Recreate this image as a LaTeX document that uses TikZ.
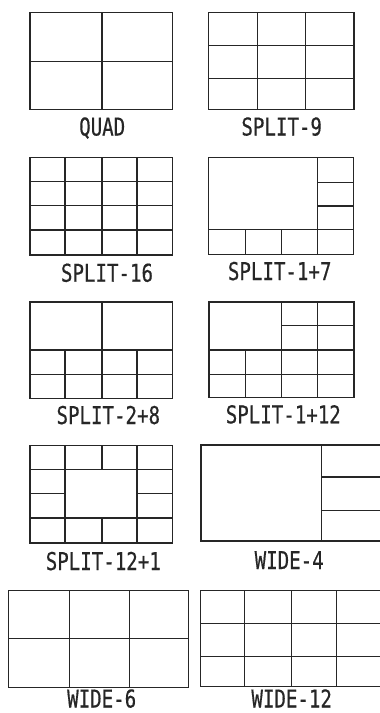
\documentclass[tikz,border=0pt]{standalone}
\usepackage{fontspec}
\newfontfamily\lblfont[FakeBold=0.6]{DejaVu Sans Mono}
\begin{document}
\begin{tikzpicture}[x=1pt,y=-1pt,
  pane/.style={draw=black!85,line width=1.2pt},
  lbl/.style={anchor=base,inner sep=0pt,text depth=0pt,font=\lblfont\fontsize{24.5}{25}\selectfont,text=black!85}]
\useasboundingbox (0,0) rectangle (380,713);
% QUAD
\draw[pane] (30,12.3) rectangle (172.7,109.3);
\draw[pane] (102,12.3) -- (102,109.3) (30,61.7) -- (172.7,61.7);
\node[lbl] (quad) at (102.2,135.5) {\scalebox{0.78}[1]{QUAD}};
% SPLIT-9
\draw[pane] (208.7,12.3) rectangle (354,109.3);
\draw[pane] (257.7,12.3) -- (257.7,109.3) (305.7,12.3) -- (305.7,109.3)
  (208.7,45.7) -- (354,45.7) (208.7,78.7) -- (354,78.7);
\node[lbl] (s9) at (281.7,135.5) {\scalebox{0.78}[1]{SPLIT-9}};
% SPLIT-16
\draw[pane] (30,157.7) rectangle (172.7,255);
\draw[pane] (65,157.7) -- (65,255) (102,157.7) -- (102,255) (137,157.7) -- (137,255)
  (30,181.7) -- (172.7,181.7) (30,205.7) -- (172.7,205.7) (30,230) -- (172.7,230);
\node[lbl] (s16) at (107,281.7) {\scalebox{0.78}[1]{SPLIT-16}};
% SPLIT-1+7
\draw[pane] (208.7,157.7) rectangle (353.7,254.3);
\draw[pane] (317.7,157.7) -- (317.7,254.3) (208.7,229.7) -- (353.7,229.7)
  (245.3,229.7) -- (245.3,254.3) (281.7,229.7) -- (281.7,254.3)
  (317.7,182.3) -- (353.7,182.3) (317.7,206) -- (353.7,206);
\node[lbl] (s17) at (279.7,280) {\scalebox{0.78}[1]{SPLIT-1+7}};
% SPLIT-2+8
\draw[pane] (30,302) rectangle (172.7,398.7);
\draw[pane] (102,302) -- (102,398.7) (30,350) -- (172.7,350) (30,374.7) -- (172.7,374.7)
  (65,350) -- (65,398.7) (137,350) -- (137,398.7);
\node[lbl] (s28) at (108.3,424) {\scalebox{0.78}[1]{SPLIT-2+8}};
% SPLIT-1+12
\draw[pane] (209,302) rectangle (354,397.7);
\draw[pane] (209,350) -- (354,350) (209,374.3) -- (354,374.3)
  (281.7,302) -- (281.7,397.7) (317.7,302) -- (317.7,397.7)
  (245.3,350) -- (245.3,397.7) (281.7,325.7) -- (354,325.7);
\node[lbl] (s112) at (283.3,423.3) {\scalebox{0.78}[1]{SPLIT-1+12}};
% SPLIT-12+1
\draw[pane] (30,445.3) rectangle (172.7,543);
\draw[pane] (30,469.3) -- (172.7,469.3) (30,518) -- (172.7,518)
  (30,493.3) -- (65,493.3) (137,493.3) -- (172.7,493.3)
  (65,445.3) -- (65,543) (137,445.3) -- (137,543)
  (102,445.3) -- (102,469.3) (102,518) -- (102,543);
\node[lbl] (s121) at (103.3,570) {\scalebox{0.78}[1]{SPLIT-12+1}};
% WIDE-4
\draw[pane] (201,445) rectangle (384,541);
\draw[pane] (321.7,445) -- (321.7,541) (321.7,477) -- (384,477) (321.7,510.3) -- (384,510.3);
\node[lbl] (w4) at (289.2,569) {\scalebox{0.78}[1]{WIDE-4}};
% WIDE-6
\draw[pane] (8.3,590.7) rectangle (188.7,687.3);
\draw[pane] (69.3,590.7) -- (69.3,687.3) (129.7,590.7) -- (129.7,687.3) (8.3,638.7) -- (188.7,638.7);
\node[lbl] (w6) at (101.7,707.5) {\scalebox{0.78}[1]{WIDE-6}};
% WIDE-12
\draw[pane] (200.7,590.7) rectangle (384,686.7);
\draw[pane] (244.7,590.7) -- (244.7,686.7) (291.3,590.7) -- (291.3,686.7) (336.7,590.7) -- (336.7,686.7)
  (200.7,623.3) -- (384,623.3) (200.7,656.7) -- (384,656.7);
\node[lbl] (w12) at (291.7,707.5) {\scalebox{0.78}[1]{WIDE-12}};
\end{tikzpicture}
\end{document}
